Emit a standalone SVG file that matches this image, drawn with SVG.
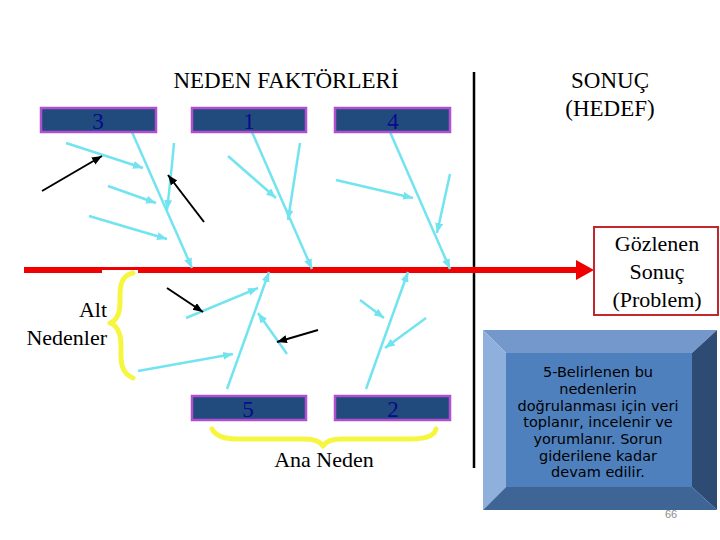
<svg xmlns="http://www.w3.org/2000/svg" width="720" height="540" viewBox="0 0 720 540">
<style>
.serif{font-family:"Liberation Serif","Times New Roman",serif;fill:#000}
.cause rect{fill:#214b7c;stroke:#b04fd0;stroke-width:2.5}
.cause text{font-family:"Liberation Serif","Times New Roman",serif;font-size:23px;fill:#0a0a8c;text-anchor:middle}
.cy{stroke:#72e4f0;stroke-width:2.5;fill:none;marker-end:url(#cyh)}
.bk{stroke:#000;stroke-width:2;fill:none;marker-end:url(#bkh)}
.brace{stroke:#f6f640;stroke-width:5;fill:none;stroke-linecap:round;stroke-linejoin:round}
.note{font-family:"DejaVu Sans","Liberation Sans",sans-serif;font-size:14.5px;fill:#000;text-anchor:middle}
</style>
<defs>
<marker id="cyh" markerUnits="userSpaceOnUse" markerWidth="12" markerHeight="10" refX="10" refY="4" orient="auto">
<path d="M0,0 L10,4 L0,8 Z" fill="#72e4f0"/>
</marker>
<marker id="bkh" markerUnits="userSpaceOnUse" markerWidth="12" markerHeight="10" refX="10" refY="4" orient="auto">
<path d="M0,0 L10,4 L0,8 Z" fill="#000"/>
</marker>
</defs>
<rect width="720" height="540" fill="#fff"/>

<g id="title">
<text class="serif" x="286" y="88" font-size="23" text-anchor="middle">NEDEN FAKTÖRLERİ</text>
</g>
<g id="hedef">
<text class="serif" x="610" y="88" font-size="23" text-anchor="middle">SONUÇ</text>
<text class="serif" x="610" y="116" font-size="23" text-anchor="middle">(HEDEF)</text>
</g>

<g id="divider">
<line x1="474" y1="72" x2="474" y2="468" stroke="#000" stroke-width="2.5"/>
</g>

<g id="spine">
<rect x="24" y="267" width="553" height="6" fill="#f00000"/>
<polygon points="576,260 594,270 576,280" fill="#f00000"/>
<rect x="102" y="270" width="36" height="5" fill="#fff"/>
</g>

<g id="connectors">
<!-- top bones -->
<line class="cy" x1="132" y1="132" x2="192" y2="268"/>
<line class="cy" x1="252" y1="132" x2="312" y2="269"/>
<line class="cy" x1="390" y1="132" x2="450" y2="269"/>
<!-- group 3 subs -->
<line class="cy" x1="66" y1="143" x2="143" y2="168"/>
<line class="cy" x1="108" y1="186" x2="156" y2="203"/>
<line class="cy" x1="89" y1="216" x2="167" y2="239"/>
<path class="cy" d="M174,143 C172,165 170,185 167,210"/>
<!-- group 1 subs -->
<line class="cy" x1="228" y1="156" x2="276" y2="198"/>
<line class="cy" x1="300" y1="143" x2="288" y2="220"/>
<!-- group 4 subs -->
<line class="cy" x1="336" y1="180" x2="413" y2="198"/>
<line class="cy" x1="450" y1="174" x2="437" y2="233"/>
<!-- bottom bones -->
<line class="cy" x1="227" y1="389" x2="269" y2="272"/>
<line class="cy" x1="366" y1="389" x2="408" y2="272"/>
<!-- bottom subs -->
<line class="cy" x1="186" y1="318" x2="258" y2="288"/>
<line class="cy" x1="138" y1="371" x2="233" y2="354"/>
<line class="cy" x1="287" y1="354" x2="258" y2="313"/>
<line class="cy" x1="360" y1="300" x2="384" y2="318"/>
<line class="cy" x1="426" y1="318" x2="385" y2="348"/>
<!-- black arrows -->
<line class="bk" x1="42" y1="191" x2="102" y2="156"/>
<line class="bk" x1="204" y1="222" x2="168" y2="175"/>
<line class="bk" x1="167" y1="288" x2="203" y2="312"/>
<line class="bk" x1="318" y1="330" x2="277" y2="342"/>
</g>

<g id="cause3" class="cause"><rect x="41" y="108" width="115" height="24"/><text x="98" y="129">3</text></g>
<g id="cause1" class="cause"><rect x="192" y="108" width="114" height="24"/><text x="249" y="129">1</text></g>
<g id="cause4" class="cause"><rect x="335" y="108" width="115" height="24"/><text x="393" y="129">4</text></g>
<g id="cause5" class="cause"><rect x="192" y="396" width="114" height="24"/><text x="248" y="417">5</text></g>
<g id="cause2" class="cause"><rect x="335" y="396" width="115" height="24"/><text x="393" y="417">2</text></g>

<g id="alt-nedenler">
<path class="brace" d="M133,273 C119,276 120,290 120,300 C120,312 118,320 110,323 C118,326 121,334 121,346 C121,358 119,372 133,378"/>
<text class="serif" x="107" y="317" font-size="22" text-anchor="end">Alt</text>
<text class="serif" x="107" y="345" font-size="22" text-anchor="end">Nedenler</text>
</g>

<g id="ana-neden">
<path class="brace" d="M212,429 C216,437 226,439 240,439 L304,439 C314,439 320,441 323,446 C326,441 332,439 342,439 L410,439 C424,439 434,437 436,429"/>
<text class="serif" x="324" y="467" font-size="22" text-anchor="middle">Ana Neden</text>
</g>

<g id="problem">
<rect x="594" y="227" width="124" height="88" fill="#fff" stroke="#c0282d" stroke-width="2"/>
<text class="serif" x="657" y="251" font-size="22" text-anchor="middle">Gözlenen</text>
<text class="serif" x="657" y="279" font-size="22" text-anchor="middle">Sonuç</text>
<text class="serif" x="657" y="307" font-size="22" text-anchor="middle">(Problem)</text>
</g>

<g id="step5">
<polygon points="483,330 717,330 692,353 506,353" fill="#7598cc"/>
<polygon points="483,330 506,353 506,487 483,510" fill="#8fafdc"/>
<polygon points="717,330 717,510 692,487 692,353" fill="#2e4b74"/>
<polygon points="483,510 717,510 692,487 506,487" fill="#3f6496"/>
<rect x="506" y="353" width="186" height="134" fill="#4f80be"/>
<text class="note" x="598" y="377">5-Belirlenen bu</text>
<text class="note" x="598" y="394">nedenlerin</text>
<text class="note" x="598" y="411">doğrulanması için veri</text>
<text class="note" x="598" y="427">toplanır, incelenir ve</text>
<text class="note" x="598" y="444">yorumlanır. Sorun</text>
<text class="note" x="598" y="461">giderilene kadar</text>
<text class="note" x="598" y="477">devam edilir.</text>
</g>

<g id="page">
<text x="671" y="518" font-family="Liberation Sans,Arial,sans-serif" font-size="11" fill="#8c8c8c" text-anchor="middle">66</text>
</g>
</svg>
